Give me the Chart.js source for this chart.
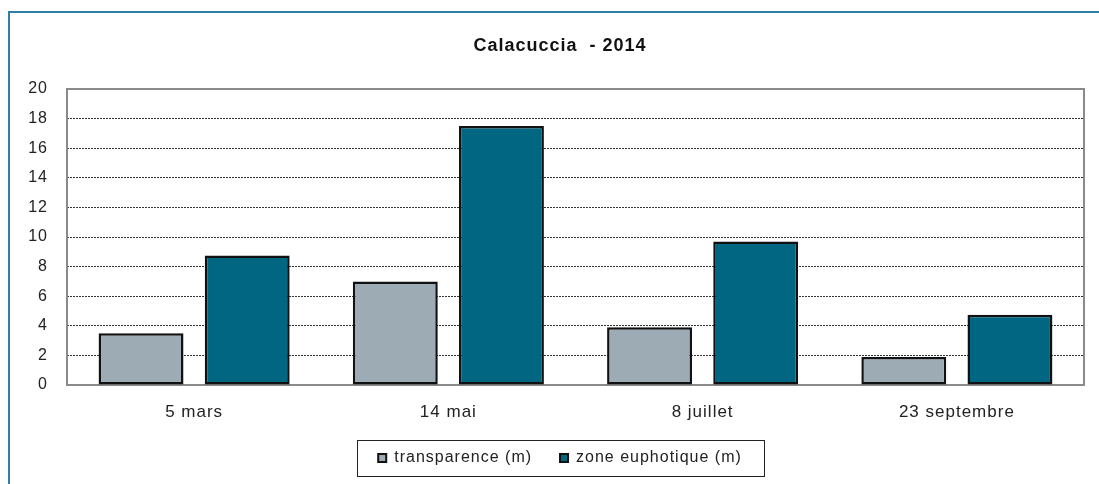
<!DOCTYPE html>
<html lang="fr">
<head>
<meta charset="utf-8">
<title>Calacuccia - 2014</title>
<script src="https://cdn.jsdelivr.net/npm/chart.js@4.4.1/dist/chart.umd.min.js"></script>
<style>
  html, body { margin:0; padding:0; background:#fff; overflow:hidden; width:1099px; height:484px; }
  #cadre { position:absolute; left:8px; top:11px; width:1200px; height:500px;
           border-top:2px solid #2f7fa6; border-left:2px solid #2f7fa6; }
  #graphique { position:absolute; left:8px; top:0; }
</style>
</head>
<body>
<div id="cadre"></div>
<canvas id="graphique" width="1104" height="484"></canvas>
<script>
// ── DONNÉES ───────────────────────────────────────
const campagnes      = ['5 mars', '14 mai', '8 juillet', '23 septembre'];
const transparence   = [3.5, 7.0, 3.9, 1.9];
const zoneEuphotique = [8.75, 17.5, 9.7, 4.75];
const axeY           = { min: 0, max: 20, pas: 2 };
const titre          = 'Calacuccia  - 2014';

const POLICE = '"Liberation Sans", Arial, sans-serif';

// espacement des lettres façon rendu Excel
const espacement = {
  id: 'espacement',
  beforeUpdate(chart) { chart.ctx.letterSpacing = '1px'; },
  beforeDraw(chart) { chart.ctx.letterSpacing = '1px'; },
};

// cadre gris de la zone de tracé
const cadreTrace = {
  id: 'cadreTrace',
  beforeDatasetsDraw(chart) {
    const { ctx, chartArea: a } = chart;
    ctx.save();
    ctx.strokeStyle = '#8a8a8a';
    ctx.lineWidth = 2;
    ctx.strokeRect(a.left, a.top, a.right - a.left, a.bottom - a.top);
    ctx.restore();
  },
};

// cadre autour de la légende
const cadreLegende = {
  id: 'cadreLegende',
  afterDraw(chart) {
    const leg = chart.legend;
    const boites = leg && leg.legendHitBoxes;
    if (!boites || !boites.length) return;
    const milieu = (leg.left + leg.right) / 2;
    const g = milieu - 203.5;
    const d = milieu + 203.5;
    const h = Math.min(...boites.map(b => b.top)) - 10;
    const b = Math.max(...boites.map(b => b.top + b.height)) + 10;
    const ctx = chart.ctx;
    ctx.save();
    ctx.strokeStyle = '#222';
    ctx.lineWidth = 1;
    ctx.strokeRect(Math.round(g) + 0.5, Math.round(h) + 0.5, Math.round(d - g), Math.round(b - h));
    ctx.restore();
  },
};

new Chart(document.getElementById('graphique'), {
  type: 'bar',
  data: {
    labels: campagnes,
    datasets: [
      {
        label: 'transparence (m)',
        data: transparence,
        backgroundColor: '#9dabb5',
        borderColor: '#111',
        borderWidth: 2.5,
        borderSkipped: false,
        categoryPercentage: 0.835,
        barPercentage: 0.8,
      },
      {
        label: 'zone euphotique (m)',
        data: zoneEuphotique,
        backgroundColor: '#006681',
        borderColor: '#111',
        borderWidth: 2.5,
        borderSkipped: false,
        categoryPercentage: 0.835,
        barPercentage: 0.8,
      },
    ],
  },
  options: {
    responsive: false,
    animation: false,
    layout: { padding: { top: 0, bottom: 8, left: 0, right: 0 } },
    plugins: {
      title: {
        display: true,
        text: titre,
        color: '#111',
        font: { family: POLICE, size: 18, weight: 'bold', lineHeight: 1.2 },
        padding: { top: 35, bottom: 32.4 },
      },
      legend: {
        position: 'bottom',
        labels: {
          color: '#222',
          font: { family: POLICE, size: 16 },
          boxWidth: 8,
          boxHeight: 8,
          padding: 28,
          generateLabels(chart) {
            return chart.data.datasets.map((ds, i) => ({
              text: ds.label,
              fillStyle: ds.backgroundColor,
              strokeStyle: '#111',
              lineWidth: 2,
              fontColor: '#222',
              datasetIndex: i,
            }));
          },
        },
      },
      tooltip: { enabled: false },
    },
    scales: {
      x: {
        grid: { display: false },
        border: { display: false },
        ticks: { color: '#222', font: { family: POLICE, size: 17 }, padding: 9, maxRotation: 0 },
        afterFit: s => { s.height = 37; },
      },
      y: {
        min: axeY.min,
        max: axeY.max,
        grid: { color: '#333', lineWidth: 1, drawTicks: false },
        border: { display: false, dash: [2, 1] },
        ticks: { stepSize: axeY.pas, color: '#222', font: { family: POLICE, size: 16 }, padding: 19 },
        afterFit: s => { s.width = 59; },
      },
      droite: {
        position: 'right',
        display: true,
        grid: { display: false },
        border: { display: false },
        ticks: { display: false },
        afterFit: s => { s.width = 28; },
      },
    },
  },
  plugins: [espacement, cadreTrace, cadreLegende],
});
</script>
</body>
</html>
